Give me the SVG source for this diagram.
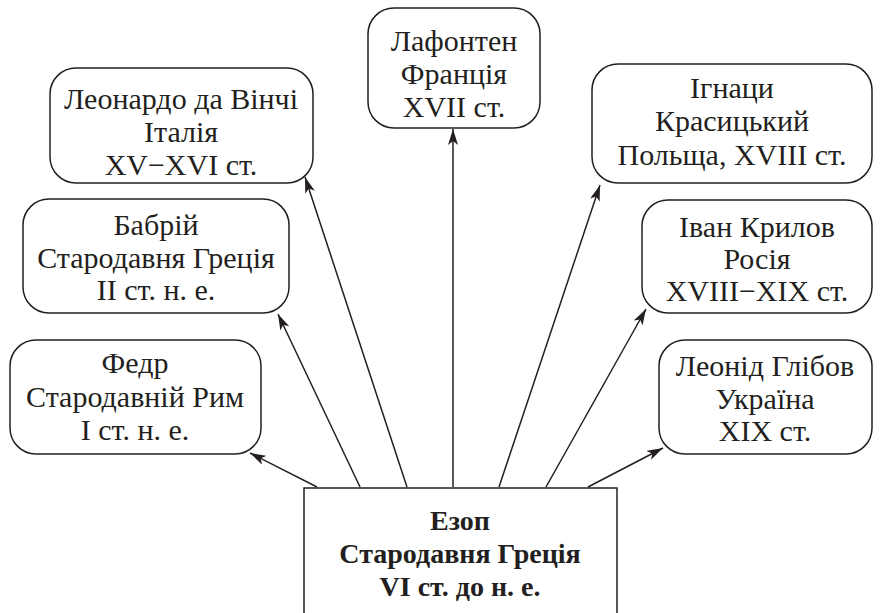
<svg xmlns="http://www.w3.org/2000/svg" width="883" height="613" viewBox="0 0 883 613">
<defs>
<marker id="ah" viewBox="0 0 16 10" refX="16" refY="5" markerWidth="16" markerHeight="10" markerUnits="userSpaceOnUse" orient="auto">
<path d="M0,0 L16,5 L0,10 L4,5 Z" fill="#231f20"/>
</marker>
</defs>
<style>
.box{fill:#fff;stroke:#231f20;stroke-width:1.5}
text{font-family:'Liberation Serif','DejaVu Serif',serif;font-size:30px;fill:#231f20;text-anchor:middle}
.b{font-weight:bold;font-size:28px}
.c{stroke:#231f20;stroke-width:1.5;fill:none;marker-end:url(#ah)}
</style>
<rect width="883" height="613" fill="#fff"/>
<g id="connectors">
<line class="c" x1="317" y1="487" x2="250" y2="453"/>
<line class="c" x1="360" y1="487" x2="278" y2="314"/>
<line class="c" x1="407" y1="487" x2="305" y2="177"/>
<line class="c" x1="453" y1="487" x2="453" y2="129"/>
<line class="c" x1="499" y1="487" x2="600" y2="185"/>
<line class="c" x1="546" y1="487" x2="646" y2="309"/>
<line class="c" x1="588" y1="487" x2="663" y2="448"/>
</g>
<g id="lafontaine">
<rect class="box" x="368" y="8" width="172" height="120" rx="26"/>
<text x="454" y="51">Лафонтен</text>
<text x="454" y="84">Франція</text>
<text x="454" y="117">XVII ст.</text>
</g>
<g id="leonardo">
<rect class="box" x="50" y="68" width="263" height="115" rx="26"/>
<text x="181" y="109">Леонардо да Вінчі</text>
<text x="181" y="142">Італія</text>
<text x="181" y="175">XV−XVI ст.</text>
</g>
<g id="krasicki">
<rect class="box" x="592" y="64" width="280" height="119" rx="26"/>
<text x="732" y="98">Ігнаци</text>
<text x="732" y="131">Красицький</text>
<text x="732" y="165">Польща, XVIII ст.</text>
</g>
<g id="babrius">
<rect class="box" x="23" y="199" width="266" height="114" rx="26"/>
<text x="156" y="235">Бабрій</text>
<text x="156" y="268">Стародавня Греція</text>
<text x="156" y="300">II ст. н. е.</text>
</g>
<g id="krylov">
<rect class="box" x="642" y="200" width="230" height="113" rx="26"/>
<text x="757" y="237">Іван Крилов</text>
<text x="757" y="269">Росія</text>
<text x="757" y="301">XVIII−XIX ст.</text>
</g>
<g id="phaedrus">
<rect class="box" x="10" y="340" width="251" height="114" rx="26"/>
<text x="135" y="373">Федр</text>
<text x="135" y="407">Стародавній Рим</text>
<text x="135" y="440">I ст. н. е.</text>
</g>
<g id="glibov">
<rect class="box" x="659" y="340" width="213" height="114" rx="26"/>
<text x="765" y="376">Леонід Глібов</text>
<text x="765" y="409">Україна</text>
<text x="765" y="441">XIX ст.</text>
</g>
<g id="aesop">
<path class="box" d="M304,620 L304,488 L617,488 L617,620"/>
<text class="b" x="460" y="530">Езоп</text>
<text class="b" x="460" y="563">Стародавня Греція</text>
<text class="b" x="460" y="596">VI ст. до н. е.</text>
</g>
</svg>
